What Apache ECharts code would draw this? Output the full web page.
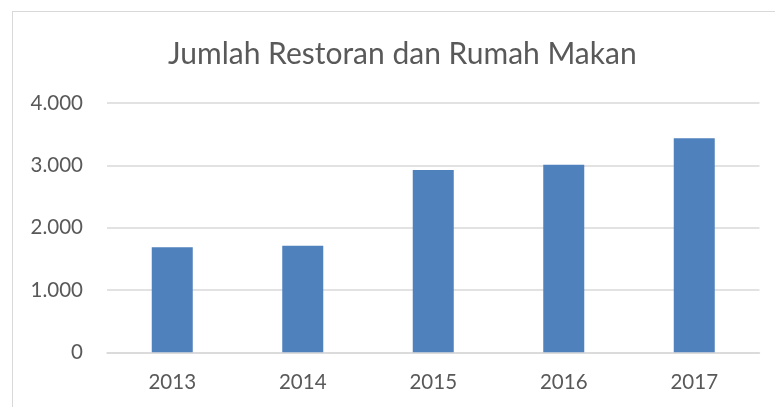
<!DOCTYPE html>
<html>
<head>
<meta charset="utf-8">
<script src="https://cdn.jsdelivr.net/npm/echarts@6/dist/echarts.min.js"></script>
<style>
  html, body { margin: 0; padding: 0; background: #fff; }
  #frame { position: absolute; left: 12px; top: 11px; width: 800px; height: 420px; border: 1px solid #d9d9d9; border-width: 1px 0 0 1px; }
  #chart { position: absolute; left: 0; top: 0; width: 775px; height: 407px; }
</style>
</head>
<body>
<div id="frame"></div>
<div id="chart"></div>
<script>
const years = ['2013', '2014', '2015', '2016', '2017']
const restoran = [1685, 1710, 2926, 3010, 3435]
const yTicks = [0, 1000, 2000, 3000, 4000]

const chart = echarts.init(document.getElementById('chart'))
const font = 'Lato, "Open Sans", sans-serif'

chart.setOption({
  animation: false,
  title: {
    text: 'Jumlah Restoran dan Rumah Makan',
    left: 163,
    top: 34,
    textStyle: { fontFamily: font, fontSize: 30, fontWeight: 'normal', color: '#595959' }
  },
  grid: { left: 107, right: 15.5, top: 103, bottom: 54.7 },
  xAxis: {
    type: 'category',
    data: years,
    axisLine: { lineStyle: { color: '#d9d9d9', width: 1.5 } },
    axisTick: { show: false },
    axisLabel: { color: '#595959', fontFamily: font, fontSize: 20.5, margin: 20 }
  },
  yAxis: {
    type: 'value',
    min: yTicks[0],
    max: yTicks[yTicks.length - 1],
    interval: 1000,
    axisLine: { show: false },
    axisTick: { show: false },
    splitLine: { lineStyle: { color: '#d9d9d9', width: 1.5 } },
    axisLabel: {
      color: '#595959', fontFamily: font, fontSize: 20.5, margin: 24,
      formatter: v => v.toString().replace(/\B(?=(\d{3})+(?!\d))/g, '.')
    }
  },
  series: [{
    type: 'bar',
    data: restoran,
    barWidth: 41,
    itemStyle: { color: '#4f81bd' }
  }]
})
</script>
</body>
</html>
